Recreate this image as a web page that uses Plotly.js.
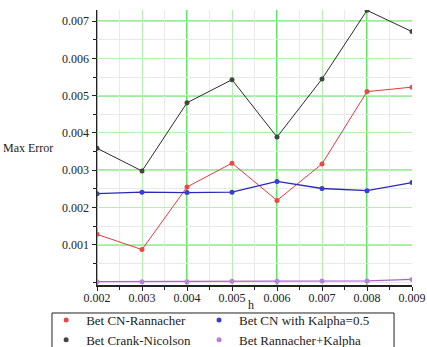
<!DOCTYPE html>
<html>
<head>
<meta charset="utf-8">
<script src="https://cdn.plot.ly/plotly-3.0.1.min.js"></script>
<style>html,body{margin:0;padding:0;background:#fff;}#chart{width:427px;height:347px;}</style>
</head>
<body>
<div id="chart"></div>
<script>
var h = [0.002, 0.003, 0.004, 0.005, 0.006, 0.007, 0.008, 0.009];
var cnRannacher = [0.00128, 0.00087, 0.00255, 0.00319, 0.00219, 0.00317, 0.00511, 0.00523];
var crankNicolson = [0.00359, 0.00298, 0.00481, 0.00543, 0.00389, 0.00545, 0.00729, 0.00672];
var cnKalpha = [0.00237, 0.00241, 0.00240, 0.00241, 0.00270, 0.00251, 0.00245, 0.00267];
var rannacherKalpha = [0.00001, 0.00001, 0.00001, 0.00002, 0.00002, 0.00003, 0.00003, 0.00007];
var yTicks = [0.001, 0.002, 0.003, 0.004, 0.005, 0.006, 0.007];
var yTickText = ['0.001', '0.002', '0.003', '0.004', '0.005', '0.006', '0.007'];
var xTickText = ['0.002', '0.003', '0.004', '0.005', '0.006', '0.007', '0.008', '0.009'];
var xMajorGrid = [0.002, 0.004, 0.006, 0.008];
var yMajorGrid = [0.001, 0.003, 0.005, 0.007];

var series = [
  {name: 'Bet CN-Rannacher', y: cnRannacher, color: '#e33b3b', w: 1, leg: 'legend'},
  {name: 'Bet CN with Kalpha=0.5', y: cnKalpha, color: '#2a2ab8', w: 1.3, leg: 'legend2'},
  {name: 'Bet Crank-Nicolson', y: crankNicolson, color: '#2b2b2b', w: 1, leg: 'legend'},
  {name: 'Bet Rannacher+Kalpha', y: rannacherKalpha, color: '#a865cf', w: 1.3, leg: 'legend2'}
];
var mColors = ['#e84848', '#3c3cd0', '#444444', '#b580d8'];

var traces = [];
series.forEach(function (s, i) {
  traces.push({x: h, y: s.y, mode: 'lines', line: {color: s.color, width: s.w}, showlegend: false, hoverinfo: 'skip'});
});
series.forEach(function (s, i) {
  traces.push({x: h, y: s.y, mode: 'markers', name: s.name, legend: s.leg, marker: {color: mColors[i], size: 5, symbol: 'circle'}});
});

var shapes = [];
xMajorGrid.forEach(function (v) {
  shapes.push({type: 'line', xref: 'x', yref: 'paper', x0: v, x1: v, y0: 0, y1: 1, layer: 'between', line: {color: '#3fdc3f', width: 1.6}});
});
yMajorGrid.forEach(function (v) {
  shapes.push({type: 'line', xref: 'paper', yref: 'y', x0: 0, x1: 1, y0: v, y1: v, layer: 'between', line: {color: '#3fdc3f', width: 1.6}});
});
// legend frame
shapes.push({type: 'rect', xref: 'paper', yref: 'paper', x0: -0.1429, x1: 0.943, y0: -0.1018, y1: -0.4, layer: 'above', line: {color: '#222', width: 1}, fillcolor: 'rgba(0,0,0,0)'});

var font = '"Liberation Serif", "DejaVu Serif", serif';
var legendBase = {
  orientation: 'v', xanchor: 'left', yanchor: 'top', y: -0.0727,
  bgcolor: 'rgba(0,0,0,0)', borderwidth: 0,
  font: {family: font, size: 13, color: '#222'},
  itemwidth: 30, tracegroupgap: 0
};
var legend1 = Object.assign({}, legendBase, {x: -0.1615});
var legend2 = Object.assign({}, legendBase, {x: 0.324});

var layout = {
  width: 427, height: 347,
  margin: {l: 97, r: 15, t: 10, b: 62, autoexpand: false},
  paper_bgcolor: '#fff', plot_bgcolor: '#fff',
  font: {family: font, size: 12, color: '#222'},
  showlegend: true,
  xaxis: {
    range: [0.002, 0.009],
    tickvals: h, ticktext: xTickText,
    showgrid: true, gridcolor: '#b4f0ae', gridwidth: 1,
    minor: {dtick: 0.0005, tick0: 0.0025, showgrid: true, gridcolor: '#e9e9e9', ticks: 'outside', ticklen: 3, tickcolor: '#222'},
    showline: true, linecolor: '#222', linewidth: 1.5,
    ticks: 'outside', ticklen: 4, tickcolor: '#222',
    ticklabelstandoff: -3,
    zeroline: false, automargin: false,
    tickfont: {family: font, size: 12, color: '#222'}
  },
  yaxis: {
    range: [-0.00008, 0.0073],
    tickvals: yTicks, ticktext: yTickText,
    showgrid: true, gridcolor: '#b4f0ae', gridwidth: 1,
    minor: {dtick: 0.0005, tick0: 0.0005, showgrid: true, gridcolor: '#e9e9e9', ticks: 'outside', ticklen: 3, tickcolor: '#222'},
    showline: true, linecolor: '#222', linewidth: 1.5,
    ticks: 'outside', ticklen: 4, tickcolor: '#222',
    zeroline: false, automargin: false,
    tickfont: {family: font, size: 12, color: '#222'}
  },
  shapes: shapes,
  annotations: [{
    text: 'Max Error', xref: 'paper', yref: 'paper', x: -0.133, y: 0.5,
    xanchor: 'right', yanchor: 'middle', showarrow: false,
    font: {family: font, size: 12, color: '#222'}
  }, {
    text: 'h', xref: 'paper', yref: 'paper', x: 0.49, y: -0.0745,
    xanchor: 'center', yanchor: 'middle', showarrow: false,
    font: {family: font, size: 12, color: '#222'}
  }],
  legend: legend1,
  legend2: legend2
};

Plotly.newPlot('chart', traces, layout, {displayModeBar: false, staticPlot: true});
</script>
</body>
</html>
